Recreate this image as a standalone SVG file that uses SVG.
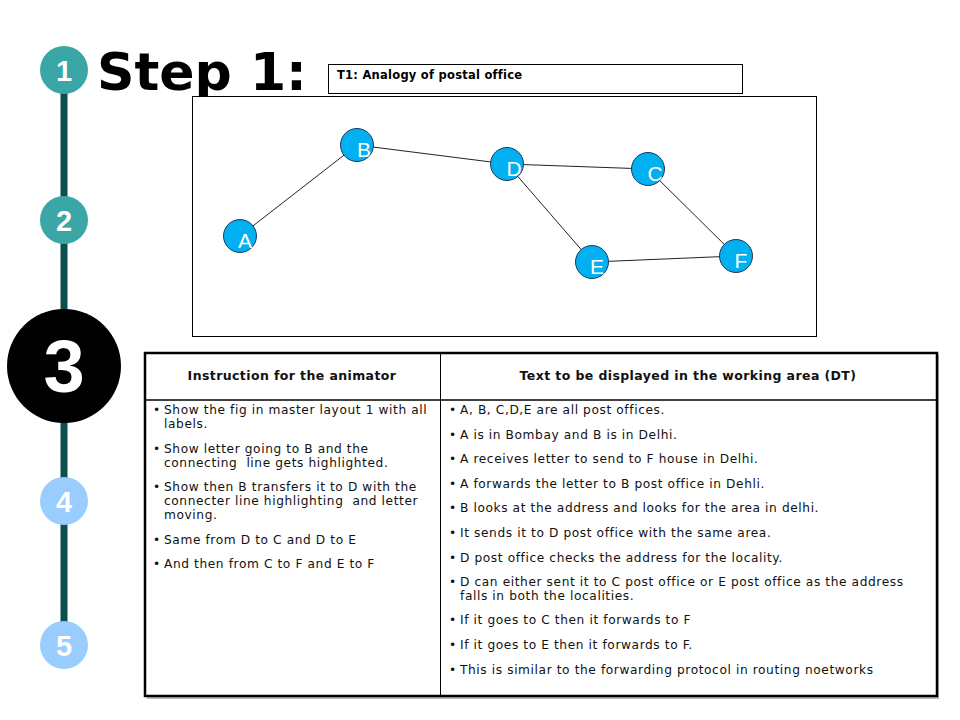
<svg xmlns="http://www.w3.org/2000/svg" width="960" height="720" viewBox="0 0 960 720">
<style>
.step{fill:#3aa6a6}
.future{fill:#99ccff}
.num{font-family:"Liberation Sans",Arial,sans-serif;font-weight:bold;fill:#fff;text-anchor:middle}
.node{fill:#00b0f0;stroke:#1f3b5c;stroke-width:1}
.nl{font-family:"Liberation Sans",Arial,sans-serif;font-size:21px;fill:#fff;text-anchor:middle}
.edge{stroke:#222;stroke-width:1;fill:none}
.hd{font-family:"DejaVu Sans",Verdana,sans-serif;font-weight:bold;font-size:12.5px;letter-spacing:0.4px;fill:#111;text-anchor:middle}
.bt{font-family:"DejaVu Sans",Verdana,sans-serif;font-size:12.2px;letter-spacing:0.6px;fill:#111}
</style>
<rect width="960" height="720" fill="#fff"/>
<g id="timeline">
<line x1="64" y1="70" x2="64" y2="645" stroke="#0b4f4f" stroke-width="7"/>
<circle class="step" cx="64" cy="70" r="24"/>
<text class="num" x="64" y="81" font-size="29">1</text>
<circle class="step" cx="64" cy="220" r="24"/>
<text class="num" x="64" y="231" font-size="29">2</text>
<circle cx="64" cy="366" r="57" fill="#000"/>
<text class="num" x="64" y="392" font-size="74">3</text>
<circle class="future" cx="64" cy="501" r="24"/>
<text class="num" x="64" y="512" font-size="29">4</text>
<circle class="future" cx="64" cy="645" r="24"/>
<text class="num" x="64" y="656" font-size="29">5</text>
</g>
<text id="title" x="97" y="90" font-family="'DejaVu Sans',Verdana,sans-serif" font-weight="bold" font-size="52" fill="#000">Step 1:</text>
<g id="t1">
<rect x="328.5" y="64.5" width="414" height="29" fill="#fff" stroke="#000" stroke-width="1"/>
<text x="337" y="79" font-family="'DejaVu Sans',Verdana,sans-serif" font-weight="bold" font-size="11.5" letter-spacing="0.25" fill="#000">T1: Analogy of postal office</text>
</g>
<rect id="graph-area" x="192.5" y="96.5" width="624" height="240" fill="#fff" stroke="#000" stroke-width="1"/>
<g id="connectors">
<line class="edge" x1="240" y1="236" x2="357" y2="145"/>
<line class="edge" x1="357" y1="145" x2="507" y2="164"/>
<line class="edge" x1="507" y1="164" x2="648" y2="169"/>
<line class="edge" x1="507" y1="164" x2="592" y2="262"/>
<line class="edge" x1="648" y1="169" x2="736" y2="256"/>
<line class="edge" x1="592" y1="262" x2="736" y2="256"/>
</g>
<g id="node-A"><circle class="node" cx="240" cy="236" r="16.5"/><text class="nl" x="245" y="248">A</text></g>
<g id="node-B"><circle class="node" cx="357" cy="145" r="16.5"/><text class="nl" x="364" y="157">B</text></g>
<g id="node-D"><circle class="node" cx="507" cy="164" r="16.5"/><text class="nl" x="514" y="176">D</text></g>
<g id="node-C"><circle class="node" cx="648" cy="169" r="16.5"/><text class="nl" x="655" y="181">C</text></g>
<g id="node-E"><circle class="node" cx="592" cy="262" r="16.5"/><text class="nl" x="597" y="274">E</text></g>
<g id="node-F"><circle class="node" cx="736" cy="256" r="16.5"/><text class="nl" x="741" y="268">F</text></g>
<g id="table">
<rect x="147" y="355" width="792" height="344" fill="#bbb"/>
<rect x="145" y="353" width="792" height="343" fill="#fff" stroke="#000" stroke-width="2.5"/>
<line x1="145" y1="400" x2="937" y2="400" stroke="#000" stroke-width="1.5"/>
<line x1="440.5" y1="353" x2="440.5" y2="696" stroke="#000" stroke-width="1"/>
<text class="hd" x="292" y="380">Instruction for the animator</text>
<text class="hd" x="688" y="380">Text to be displayed in the working area (DT)</text>
<g class="bt">
<text x="153" y="414">•</text><text x="164" y="414">Show the fig in master layout 1 with all</text>
<text x="164" y="428">labels.</text>
<text x="153" y="453">•</text><text x="164" y="453">Show letter going to B and the</text>
<text x="164" y="467" xml:space="preserve">connecting  line gets highlighted.</text>
<text x="153" y="491">•</text><text x="164" y="491">Show then B transfers it to D with the</text>
<text x="164" y="505" xml:space="preserve">connecter line highlighting  and letter</text>
<text x="164" y="519">moving.</text>
<text x="153" y="544">•</text><text x="164" y="544">Same from D to C and D to E</text>
<text x="153" y="568">•</text><text x="164" y="568">And then from C to F and E to F</text>
<text x="449" y="414">•</text><text x="460" y="414">A, B, C,D,E are all post offices.</text>
<text x="449" y="439">•</text><text x="460" y="439">A is in Bombay and B is in Delhi.</text>
<text x="449" y="463">•</text><text x="460" y="463">A receives letter to send to F house in Delhi.</text>
<text x="449" y="488">•</text><text x="460" y="488">A forwards the letter to B post office in Dehli.</text>
<text x="449" y="512">•</text><text x="460" y="512">B looks at the address and looks for the area in delhi.</text>
<text x="449" y="537">•</text><text x="460" y="537">It sends it to D post office with the same area.</text>
<text x="449" y="562">•</text><text x="460" y="562">D post office checks the address for the locality.</text>
<text x="449" y="586">•</text><text x="460" y="586">D can either sent it to C post office or E post office as the address</text>
<text x="460" y="600">falls in both the localities.</text>
<text x="449" y="624">•</text><text x="460" y="624">If it goes to C then it forwards to F</text>
<text x="449" y="649">•</text><text x="460" y="649">If it goes to E then it forwards to F.</text>
<text x="449" y="674">•</text><text x="460" y="674">This is similar to the forwarding protocol in routing noetworks</text>
</g>
</g>
</svg>
